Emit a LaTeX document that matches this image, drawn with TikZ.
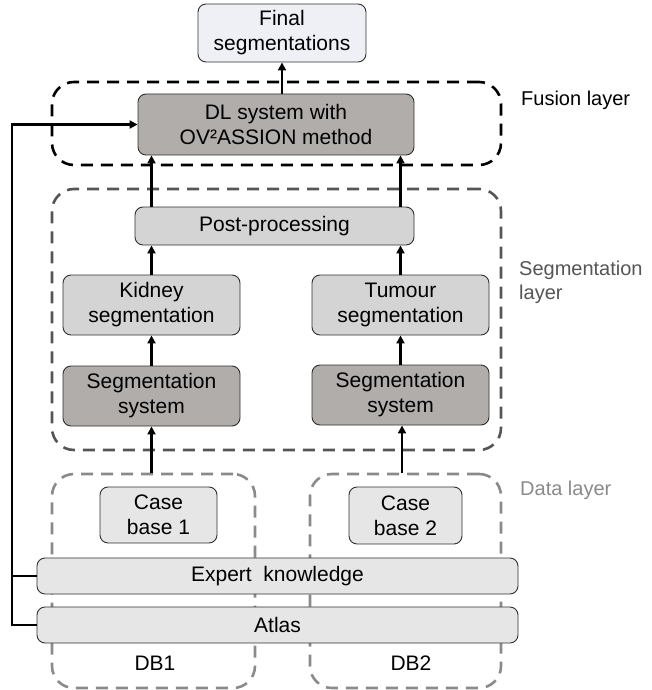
\documentclass[tikz,border=0pt]{standalone}
\usepackage{fontspec}
\setmainfont{Liberation Sans}
\usetikzlibrary{arrows.meta}

\definecolor{finalfill}{HTML}{EEF0F6}
\definecolor{darkfill}{HTML}{B1ADAA}
\definecolor{midfill}{HTML}{D5D4D4}
\definecolor{lightfill}{HTML}{E6E6E6}
\definecolor{boxline}{HTML}{303030}
\definecolor{seggray}{HTML}{555555}
\definecolor{datagray}{HTML}{8A8A8A}

\tikzset{
  box/.style={draw=boxline, line width=0.9pt, rounded corners=8pt, align=center,
    inner sep=0pt, font=\fontsize{21}{25}\selectfont},
  layerbox/.style={draw, line width=2.6pt, dash pattern=on 12pt off 8pt,
    rounded corners=22pt, inner sep=0pt},
  conn/.style={line width=2.2pt, black},
  arrowline/.style={conn, -{Triangle[length=8pt,width=8pt]}},
  layerlabel/.style={anchor=west, align=left, inner sep=0pt,
    font=\fontsize{20}{24}\selectfont},
}

\begin{document}
\begin{tikzpicture}[x=1pt,y=-1pt]
  \useasboundingbox (0,0) rectangle (652,690);

  % layer frames
  \node[layerbox, draw=black, minimum width=449pt, minimum height=83pt] (fusion) at (276.5,123.5) {};
  \node[layerbox, draw=seggray, minimum width=449pt, minimum height=261pt] (seglayer) at (276.5,319.5) {};
  \node[layerbox, draw=datagray, minimum width=203pt, minimum height=214pt] (db1) at (153.5,581) {};
  \node[layerbox, draw=datagray, minimum width=191pt, minimum height=214pt] (db2) at (405.5,581) {};

  % layer names
  \node[layerlabel] (fusionlbl) at (521,100) {Fusion layer};
  \node[layerlabel, text=seggray] (seglbl) at (519,282) {Segmentation\\layer};
  \node[layerlabel, text=datagray] (datalbl) at (520,490) {Data layer};

  % fusion layer
  \node[box, fill=finalfill, minimum width=168pt, minimum height=58pt] (final) at (282,33) {Final\\segmentations};
  \node[box, fill=darkfill, minimum width=276pt, minimum height=61pt] (dl) at (276,124.5) {DL system with\\OV²ASSION method};

  % segmentation layer
  \node[box, fill=midfill, minimum width=279pt, minimum height=38pt] (post) at (274.5,226) {Post-processing};
  \node[box, fill=midfill, minimum width=177pt, minimum height=60pt] (kidney) at (151.5,305) {Kidney\\segmentation};
  \node[box, fill=midfill, minimum width=177pt, minimum height=60pt] (tumour) at (400.5,305) {Tumour\\segmentation};
  \node[box, fill=darkfill, minimum width=177pt, minimum height=60pt] (segL) at (151.5,396) {Segmentation\\system};
  \node[box, fill=darkfill, minimum width=177pt, minimum height=60pt] (segR) at (400.5,395) {Segmentation\\system};

  % data layer
  \node[box, fill=lightfill, minimum width=117pt, minimum height=56pt] (case1) at (158.5,515) {Case\\base 1};
  \node[box, fill=lightfill, minimum width=113pt, minimum height=57pt] (case2) at (405.5,515.5) {Case\\base 2};
  \node[box, fill=lightfill, minimum width=481pt, minimum height=36pt] (expert) at (277.5,576) {Expert\ \ knowledge};
  \node[box, fill=lightfill, minimum width=481pt, minimum height=36pt] (atlas) at (277.5,625) {Atlas};
  \node[font=\fontsize{21}{25}\selectfont, inner sep=0pt] (db1lbl) at (155,663) {DB1};
  \node[font=\fontsize{21}{25}\selectfont, inner sep=0pt] (db2lbl) at (411,663) {DB2};

  % connectors
  \draw[arrowline] (dl.north -| final.south) -- (final.south);
  \draw[arrowline] (post.north -| kidney.north) -- (dl.south -| kidney.north);
  \draw[arrowline] (post.north -| tumour.north) -- (dl.south -| tumour.north);
  \draw[arrowline] (kidney.north) -- (post.south -| kidney.north);
  \draw[arrowline] (tumour.north) -- (post.south -| tumour.north);
  \draw[arrowline] (segL.north) -- (kidney.south);
  \draw[arrowline] (segR.north) -- (tumour.south);
  \coordinate (inR) at (402,0);
  \draw[arrowline] (db1.north -| segL.south) -- (segL.south);
  \draw[arrowline] (db2.north -| inR) -- (segR.south -| inR);

  % knowledge bus to the fusion system
  \coordinate (bus) at (12,0);
  \draw[arrowline, line join=miter] (atlas.west) -- (atlas.west -| bus) -- (dl.west -| bus) -- (dl.west);
  \draw[conn] (expert.west) -- (expert.west -| bus);
\end{tikzpicture}
\end{document}
